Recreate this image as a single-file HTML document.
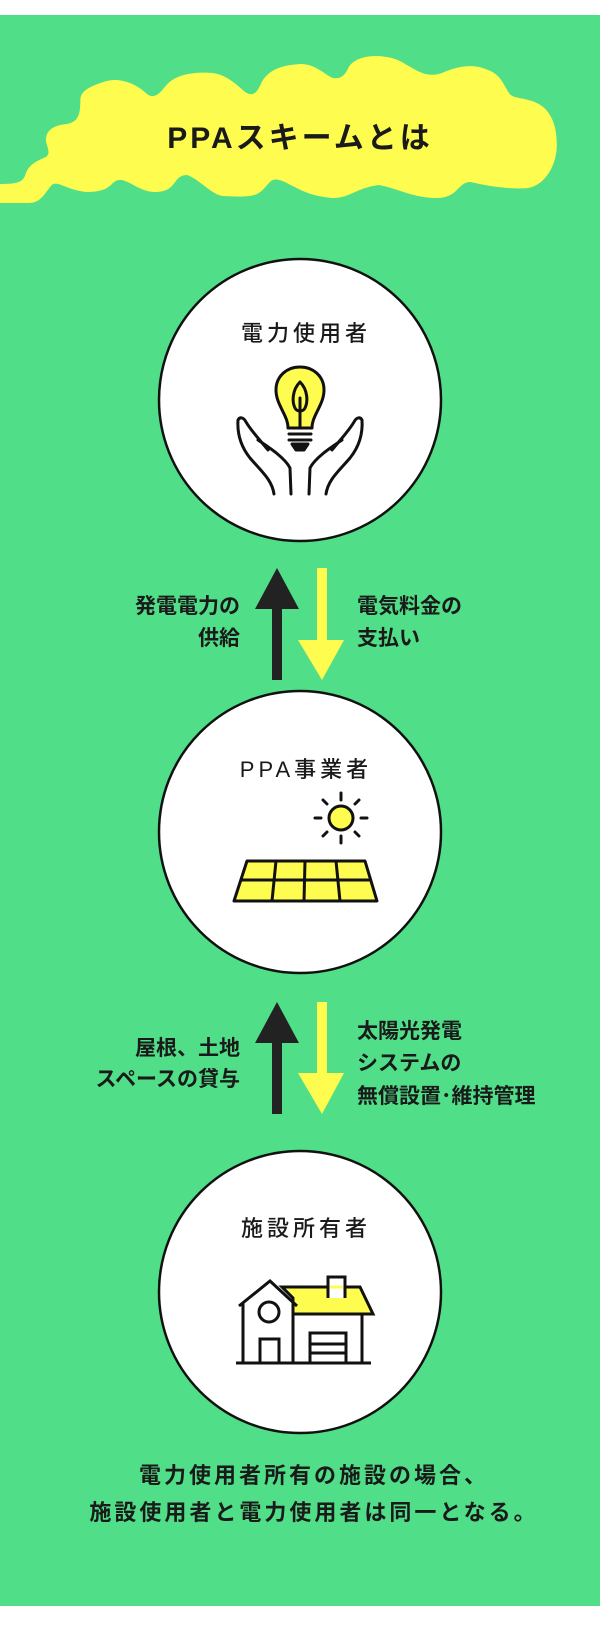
<!DOCTYPE html>
<html><head><meta charset="utf-8"><style>
body{margin:0;width:600px;height:1630px;background:#fff;overflow:hidden;font-family:"Liberation Sans","Noto Sans CJK JP",sans-serif;}
svg{display:block}
</style></head><body>
<svg width="600" height="1630" viewBox="0 0 600 1630" xmlns="http://www.w3.org/2000/svg">
<rect x="0" y="15" width="600" height="1591" fill="#50DE88"/>
<path transform="scale(1.148,1)" fill="#FFFC50" d="M0,184 C15,184 20,182 22,175 C25,165 30,162 40,157 C45,153 40,145 40,140 C40,128 50,125 58,124 C68,122 70,115 70,100 C70,90 80,86 90,82 C105,76 120,85 128,94 C135,100 140,92 145,85 C155,72 175,72 185,73 C200,75 210,90 215,93 C222,97 225,90 228,82 C235,68 248,65 262,64 C275,64 283,75 290,78 C300,80 302,70 305,65 C315,52 340,55 350,62 C365,72 372,78 385,73 C395,68 410,62 425,70 C438,75 440,90 445,95 C448,98 455,98 460,100 C480,105 485,125 485,145 C485,165 475,185 460,188 C445,190 420,185 410,182 C398,182 400,198 380,198 C360,198 345,188 330,185 C310,188 305,198 290,198 C270,196 262,190 255,186 C248,182 240,176 235,182 C225,195 225,198 195,196 C185,196 175,180 163,175 C150,175 155,192 135,192 C122,192 112,180 105,180 C95,180 100,192 75,192 C58,190 50,180 45,185 C38,195 35,203 25,203 L0,203 Z"/>
<text x="300" y="148" text-anchor="middle" font-size="30" font-weight="bold" fill="#1a1a1a" letter-spacing="3">PPAスキームとは</text>

<g fill="#fff" stroke="#111" stroke-width="2.5">
<circle cx="300" cy="400" r="141"/>
<circle cx="300" cy="832" r="141"/>
<circle cx="300" cy="1292" r="141"/>
</g>
<g font-size="22" fill="#1a1a1a" text-anchor="middle" letter-spacing="4" font-weight="500">
<text x="306" y="341">電力使用者</text>
<text x="306" y="777">PPA事業者</text>
<text x="306" y="1236">施設所有者</text>
</g>

<!-- bulb & hands -->
<g stroke="#111" stroke-width="3" fill="none" stroke-linecap="round" stroke-linejoin="round">
<path d="M288,428 C288,415 276,405 276,390 C276,376 287,367 300,367 C313,367 324,376 324,390 C324,405 312,415 312,428 Z" fill="#FFFC50"/>
<path d="M300,382 C292,390 292,402 295,408 C297,412 303,412 305,408 C308,402 308,390 300,382 Z M300,398 L300,426"/>
<path d="M289,434 L311,434 M289,440 L311,440"/>
<path d="M292,444 L308,444 L304,450 L296,450 Z" fill="#111"/>
<path d="M274,494 C272,480 262,472 250,458 C242,448 237,435 238,420 C240,416 244,418 246,422 C252,432 260,440 268,450 M258,440 C270,448 285,458 290,468 L291,494"/>
<path d="M326,494 C328,480 338,472 350,458 C358,448 363,435 362,420 C360,416 356,418 354,422 C348,432 340,440 332,450 M342,440 C330,448 315,458 310,468 L309,494"/>
</g>

<!-- sun & panel -->
<g stroke="#111" stroke-width="3" stroke-linecap="round">
<circle cx="341" cy="818" r="12" fill="#FFFC50"/>
<path d="M341,793 L341,800 M341,836 L341,843 M315,818 L321,818 M361,818 L367,818 M323,800 L327,804 M355,832 L359,836 M359,800 L355,804 M323,836 L327,832"/>
<path d="M247,861 L365,861 L377,901 L234,901 Z" fill="#FFFC50" stroke-linejoin="round"/>
<path d="M241,880 L371,880 M276,861 L272,901 M305,861 L304,901 M336,861 L340,901" stroke-linecap="butt"/>
</g>

<!-- house -->
<g stroke="#111" stroke-width="3" fill="none" stroke-linejoin="miter">
<path d="M282,1287 L360,1287 L373,1314 L293,1314 L293,1298 Z" fill="#FFFC50"/>
<path d="M328,1298 L328,1277 L345,1277 L345,1298" fill="#fff"/>
<path d="M330,1287 L343,1287" stroke="#FFFC50"/>
<path d="M239,1306 L270,1281 L297,1306"/>
<path d="M243,1303 L243,1363 M293,1300 L293,1363 M362,1314 L362,1363"/>
<circle cx="269" cy="1312" r="10"/>
<path d="M260,1363 L260,1339 L279,1339 L279,1363"/>
<path d="M310,1363 L310,1333 L346,1333 L346,1363 M310,1344 L346,1344 M310,1353 L346,1353"/>
<path d="M236,1363 L371,1363"/>
</g>

<!-- arrows -->
<g>
<rect x="272" y="600" width="10" height="80" fill="#222"/>
<polygon points="277,568 255,609 299,609" fill="#222"/>
<rect x="317" y="568" width="10" height="80" fill="#FFFC50"/>
<polygon points="322,680 298,640 344,640" fill="#FFFC50"/>
</g>
<g>
<rect x="272" y="1035" width="10" height="79" fill="#222"/>
<polygon points="277,1002 255,1043 299,1043" fill="#222"/>
<rect x="317" y="1002" width="10" height="80" fill="#FFFC50"/>
<polygon points="322,1114 298,1073 344,1073" fill="#FFFC50"/>
</g>

<g font-size="21" font-weight="bold" fill="#1a1a1a">
<text x="240" y="613" text-anchor="end">発電電力の</text>
<text x="240" y="645" text-anchor="end">供給</text>
<text x="357" y="613">電気料金の</text>
<text x="357" y="645">支払い</text>
<text x="240" y="1055" text-anchor="end">屋根、土地</text>
<text x="240" y="1086" text-anchor="end">スペースの貸与</text>
<text x="357" y="1038">太陽光発電</text>
<text x="357" y="1070">システムの</text>
<text x="357" y="1103">無償設置･維持管理</text>
</g>
<g font-size="22" font-weight="bold" fill="#1a1a1a" text-anchor="middle" letter-spacing="3">
<text x="314" y="1483">電力使用者所有の施設の場合、</text>
<text x="314" y="1520">施設使用者と電力使用者は同一となる。</text>
</g>
</svg>
</body></html>
